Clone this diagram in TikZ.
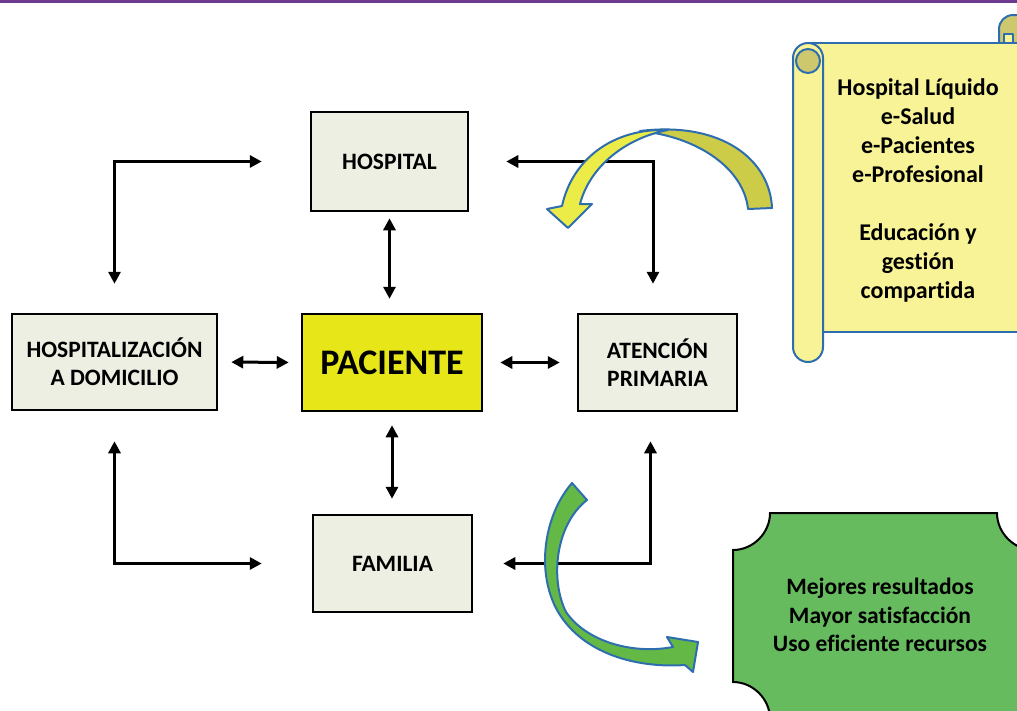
\documentclass[tikz,border=0pt]{standalone}
\usepackage{fontspec}
\setmainfont{Carlito}[RawFeature={-liga;-clig;-calt;-dlig}]
\usetikzlibrary{arrows.meta}
\definecolor{boxfill}{RGB}{237,239,226}
\definecolor{pacfill}{RGB}{230,230,25}
\definecolor{scrollfill}{RGB}{248,243,150}
\definecolor{scrolldark}{RGB}{205,200,110}
\definecolor{edgeblue}{RGB}{46,110,175}
\definecolor{plaquefill}{RGB}{102,187,94}
\definecolor{arrowgreen}{RGB}{100,185,70}
\definecolor{arrowyellow}{RGB}{236,236,72}
\definecolor{arrowolive}{RGB}{204,204,72}
\definecolor{topline}{RGB}{108,58,142}
\tikzset{
  box/.style={draw=black,line width=2.5pt,fill=boxfill,align=center,inner sep=0pt,
    font=\fontsize{23.5}{28}\selectfont\bfseries},
  dbl/.style={line width=3pt,{Triangle[length=12pt,width=12pt]}-{Triangle[length=12pt,width=12pt]}},
  band/.style={draw=edgeblue,line width=2pt,line join=round},
  bigtext/.style={align=center,font=\fontsize{24}{29}\selectfont\bfseries}
}
\begin{document}
\begin{tikzpicture}[x=1pt,y=-1pt]
\useasboundingbox (0,0) rectangle (1017,710);
\clip (0,0) rectangle (1017,710);
\draw[topline,line width=3pt] (0,1.5) -- (1017,1.5);
% the five boxes
\node[box,minimum width=157pt,minimum height=99pt] (hosp) at (389.5,161.5) {HOSPITAL};
\node[box,fill=pacfill,minimum width=180pt,minimum height=97pt,
  font=\fontsize{36}{40}\selectfont\bfseries] (pac) at (392,362.5) {PACIENTE};
\node[box,minimum width=205pt,minimum height=96pt] (hd) at (114.5,362) {HOSPITALIZACIÓN\\A DOMICILIO};
\node[box,minimum width=159pt,minimum height=97pt] (ap) at (657.5,362.5) {ATENCIÓN\\PRIMARIA};
\node[box,minimum width=159pt,minimum height=97pt] (fam) at (392.5,563.5) {FAMILIA};
% straight links
\draw[dbl,shorten <=6pt,shorten >=14pt] (hosp.south) -- (hosp.south |- pac.north);
\draw[dbl,shorten <=13pt,shorten >=15pt] (pac.south) -- (pac.south |- fam.north);
\draw[dbl,shorten <=13pt,shorten >=12pt] (hd.east) -- (pac.west);
\draw[dbl,shorten <=17pt,shorten >=17pt] (pac.east) -- (ap.west);
% elbow links
\draw[dbl,shorten <=29pt,shorten >=48pt] (hd.north) |- (hosp.west);
\draw[dbl,shorten <=37pt,shorten >=29pt] (hosp.east) -| ([xshift=-4.5pt]ap.north);
\draw[dbl,shorten <=30pt,shorten >=50pt] (hd.south) |- (fam.west);
\draw[dbl,shorten <=30pt,shorten >=29pt] (fam.east) -| ([xshift=-7pt]ap.south);
% yellow curved arrow
\filldraw[band,fill=arrowolive] (640,131) .. controls (722,121) and (770,160) .. (772,208)
  -- (748,209) .. controls (744,170) and (700,137) .. (640,131) -- cycle;
\filldraw[band,fill=arrowyellow] (562,206) .. controls (572,160) and (612,128) .. (668,130)
  .. controls (626,138) and (590,166) .. (580,204) -- (592,204) -- (568,228) -- (547,209) -- cycle;
% green curved arrow
\filldraw[band,fill=arrowgreen] (572,483) .. controls (540,520) and (535,585) .. (565,622)
  .. controls (592,656) and (640,668) .. (685,665) -- (693,672) -- (698,642) -- (667,637) -- (673,647)
  .. controls (630,655) and (585,640) .. (566,612) .. controls (550,580) and (555,525) .. (587,500) -- cycle;
% scroll
\filldraw[band,fill=scrolldark,rounded corners=14pt] (999,15) rectangle (1045,60);
\filldraw[band,fill=scrollfill] (1004,34) rectangle (1013,44);
\filldraw[band,fill=scrollfill] (808,43) rectangle (1040,332);
\filldraw[band,fill=scrollfill,rounded corners=15pt] (793,43) rectangle (823,362);
\filldraw[band,fill=scrolldark] (808,61) circle[radius=12];
\node[bigtext] (notes) at (918,190) {Hospital Líquido\\e-Salud\\e-Pacientes\\e-Profesional\\[29pt]Educación y\\gestión\\compartida};
% result plaque
\filldraw[draw=black,line width=2pt,fill=plaquefill] (770,513) -- (997,513)
  .. controls (997,533) and (1014,550) .. (1034,550) -- (1034,720) -- (770,720) -- (770,719)
  .. controls (770,699) and (753,682) .. (733,682) -- (733,550)
  .. controls (753,550) and (770,533) .. (770,513) -- cycle;
\node[bigtext,font=\fontsize{23.5}{28.5}\selectfont\bfseries] (res) at (880,615) {Mejores resultados\\Mayor satisfacción\\Uso eficiente recursos};
\end{tikzpicture}
\end{document}
